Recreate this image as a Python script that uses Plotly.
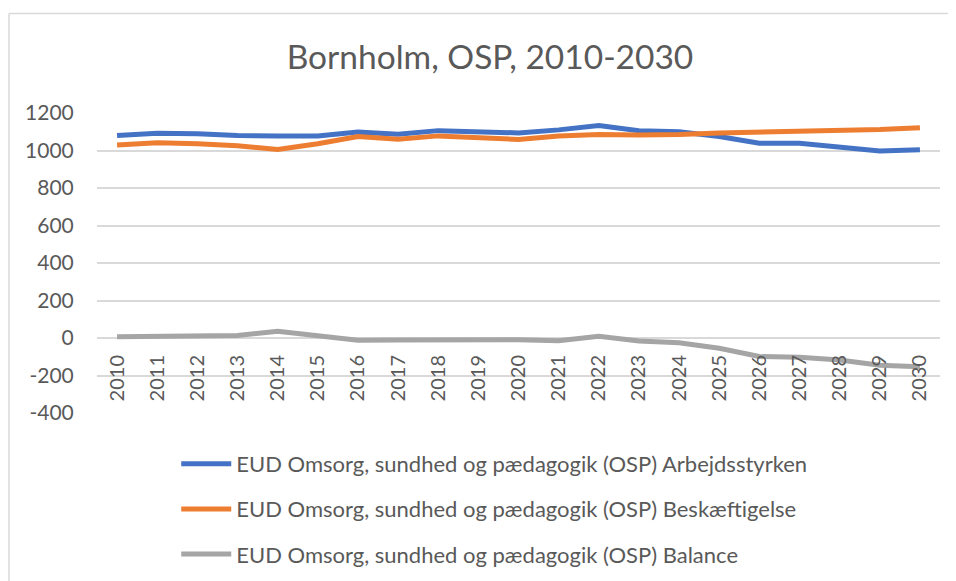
"""Bornholm OSP labour balance chart."""

import plotly.graph_objects as go

years = [str(y) for y in range(2010, 2031)]

arbejdsstyrken = [1080, 1092, 1090, 1080, 1077, 1077, 1098, 1087, 1106, 1100, 1094,
                  1110, 1133, 1106, 1100, 1075, 1039, 1039, 1018, 997, 1004]
beskaeftigelse = [1030, 1041, 1036, 1025, 1005, 1036, 1075, 1060, 1078, 1071, 1059,
                  1077, 1085, 1083, 1085, 1094, 1098, 1100, 1105, 1112, 1122]
balance = [7, 11, 14, 14, 36, 12, -12, -10, -8, -10, -9,
           -14, 9, -16, -25, -55, -99, -103, -117, -145, -153]

series_names = [
    "EUD Omsorg, sundhed og pædagogik (OSP) Arbejdsstyrken",
    "EUD Omsorg, sundhed og pædagogik (OSP) Beskæftigelse",
    "EUD Omsorg, sundhed og pædagogik (OSP) Balance",
]
colors = ["#4472C4", "#ED7D31", "#A5A5A5"]

y_ticks = [-400, -200, 0, 200, 400, 600, 800, 1000, 1200]
y_tick_labels = ["-400", "-200", "0", "200", "400", "600", "800", "1000", "1200"]

text_color = "#595959"
grid_color = "#D9D9D9"

# page body has an 8px margin; figure edges land just at the window edges
W, H = 948, 573

fig = go.Figure()
for name, values, color in zip(series_names, [arbejdsstyrken, beskaeftigelse, balance], colors):
    fig.add_trace(
        go.Scatter(
            x=years,
            y=values,
            name=name,
            legendgroup=name,
            mode="lines",
            line={"color": color, "width": 5},
        )
    )

# chart-area frame: only the left and top edges fall inside the window
border_left = (1 - 89) / 843
border_top = (405 - 5.5) / 300
frame = {"type": "line", "xref": "paper", "yref": "paper",
         "line": {"color": grid_color, "width": 1.5}, "layer": "below"}

fig.update_layout(
    width=W,
    height=H,
    autosize=False,
    plot_bgcolor="white",
    paper_bgcolor="white",
    margin={"l": 89, "r": 16, "t": 105, "b": 168, "autoexpand": False},
    font={"family": "Lato, 'Open Sans', sans-serif", "color": text_color},
    title={
        "text": "Bornholm, OSP, 2010-2030",
        "x": 482 / W,
        "xanchor": "center",
        "y": 1 - 49 / H,
        "yanchor": "middle",
        "font": {"size": 33.5, "color": text_color},
    },
    showlegend=True,
    legend={
        "x": 0.094,
        "xanchor": "left",
        "y": -0.1,
        "yanchor": "top",
        "font": {"size": 22, "color": text_color},
        "tracegroupgap": 13.5,
        "itemwidth": 50,
        "bgcolor": "rgba(0,0,0,0)",
    },
    shapes=[
        {**frame, "x0": border_left, "x1": border_left, "y0": -1.0, "y1": border_top},
        {**frame, "x0": border_left, "x1": 1.1, "y0": border_top, "y1": border_top},
    ],
)

fig.update_xaxes(
    type="category",
    range=[-0.5, 20.5],
    anchor="free",
    position=0.25,
    tickangle=-90,
    showgrid=False,
    showline=False,
    zeroline=False,
    ticks="outside",
    ticklen=8,
    tickcolor="rgba(0,0,0,0)",
    tickfont={"size": 20, "color": text_color},
)

fig.update_yaxes(
    range=[-400, 1200],
    tickmode="array",
    tickvals=y_ticks,
    ticktext=y_tick_labels,
    showgrid=True,
    gridcolor=grid_color,
    gridwidth=1.5,
    zeroline=True,
    zerolinecolor=grid_color,
    zerolinewidth=1.5,
    showline=False,
    ticks="outside",
    ticklen=18,
    tickcolor="rgba(0,0,0,0)",
    tickfont={"size": 21, "color": text_color},
)

# hide the page scrollbars so the figure's right edge is not overdrawn
fig.write_html(
    "out.html",
    post_script="document.documentElement.style.overflow='hidden';"
    "document.body.style.overflow='hidden';",
)
